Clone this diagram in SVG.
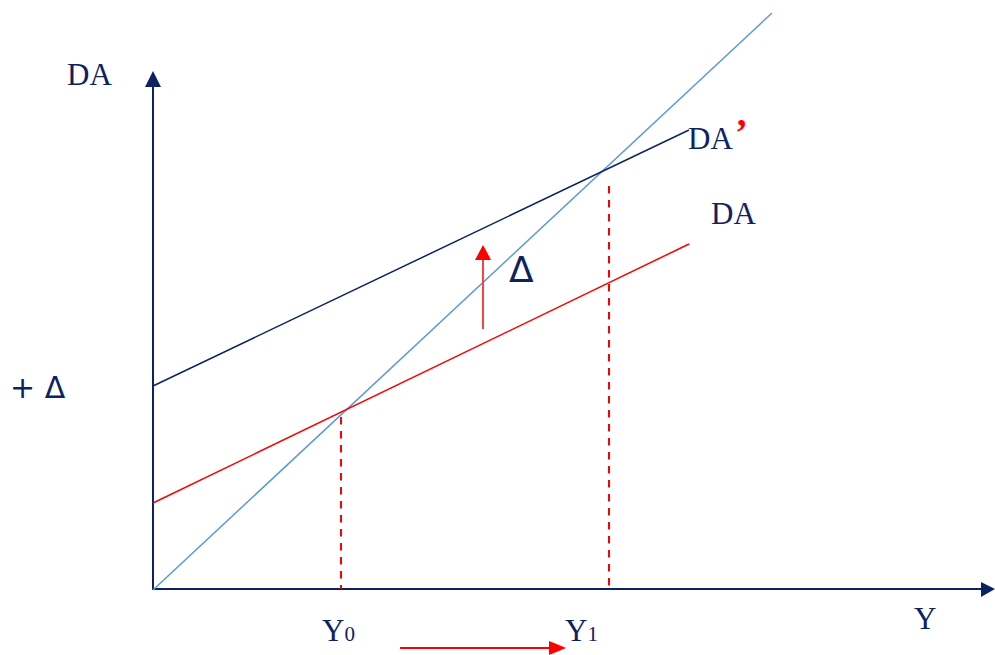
<svg xmlns="http://www.w3.org/2000/svg" width="995" height="655" viewBox="0 0 995 655">
<style>
.serif{font-family:"Liberation Serif","Times New Roman",serif;fill:#0d2263}
.sans{font-family:"DejaVu Sans",sans-serif;fill:#0d2263}
.axis{stroke:#0d2263;stroke-width:2;fill:none}
.navy{stroke:#0d2263;stroke-width:1.5;fill:none}
.blue{stroke:#5b9bd5;stroke-width:1.5;fill:none}
.red{stroke:#ff0000;stroke-width:1.5;fill:none}
.dash{stroke:#ff0000;stroke-width:2;stroke-dasharray:7.5 6.5;fill:none}
</style>
<rect width="995" height="655" fill="#ffffff"/>
<g id="connectors">
<line class="axis" x1="153" y1="590" x2="153" y2="84"/>
<polygon points="153,71 145,87 161,87" fill="#0d2263"/>
<line class="axis" x1="153" y1="589" x2="983" y2="589"/>
<polygon points="995,589 981,582 981,597" fill="#0d2263"/>
<line class="blue" x1="153" y1="590" x2="772" y2="13"/>
<line class="navy" x1="153" y1="386" x2="689" y2="130"/>
<line class="red" x1="153" y1="503" x2="689" y2="244"/>
<line class="dash" x1="341" y1="417" x2="341" y2="589"/>
<line class="dash" x1="609" y1="186" x2="609" y2="589"/>
<line stroke="#ff4040" stroke-width="2" x1="483" y1="329" x2="483" y2="256"/>
<polygon points="483,245 475,260 491,260" fill="#ff0000"/>
<line stroke="#ff0000" stroke-width="2" x1="400" y1="648" x2="552" y2="648"/>
<polygon points="566,648 549,641 549,655" fill="#ff0000"/>
</g>
<g id="label-DA-axis"><text class="serif" x="67" y="85" font-size="31">DA</text></g>
<g id="label-DA-prime"><text class="serif" x="688" y="149" font-size="31">DA</text><text x="735" y="145" font-size="38" font-weight="bold" font-family="Liberation Serif,serif" fill="#ff0000">’</text></g>
<g id="label-DA"><text class="serif" x="711" y="224" font-size="31">DA</text></g>
<g id="label-delta"><text class="sans" x="509" y="282" font-size="36">Δ</text></g>
<g id="label-plus-delta"><text class="sans" x="10" y="398" font-size="30">+ Δ</text></g>
<g id="label-Y0"><text class="serif" x="322" y="641" font-size="31">Y<tspan font-size="21">0</tspan></text></g>
<g id="label-Y1"><text class="serif" x="565" y="641" font-size="31">Y<tspan font-size="21">1</tspan></text></g>
<g id="label-Y"><text class="serif" x="914" y="629" font-size="31">Y</text></g>
</svg>
